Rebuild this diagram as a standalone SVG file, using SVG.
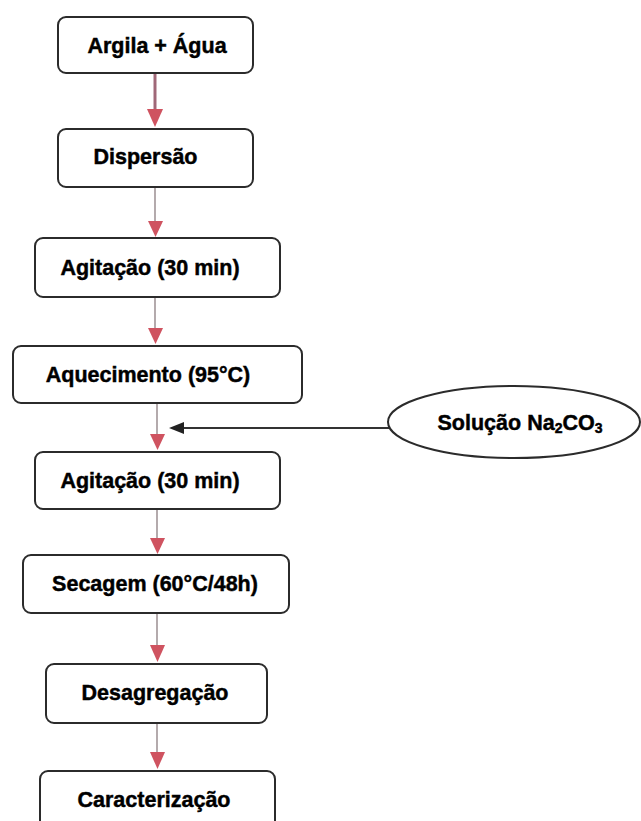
<svg xmlns="http://www.w3.org/2000/svg" width="641" height="821" viewBox="0 0 641 821">
<defs>
<style>
.box{fill:#fff;stroke:#2b2b2b;stroke-width:2}
.lbl{font-family:"Liberation Sans",Arial,sans-serif;font-weight:bold;font-size:21.5px;fill:#000;stroke:#000;stroke-width:0.45;text-anchor:middle}
.ln{stroke:#8c7d80;stroke-width:1.3;fill:none}
.hd{fill:#cf5360}
</style>
</defs>
<rect width="641" height="821" fill="#fff"/>
<g id="connectors">
<line x1="155" y1="73" x2="155" y2="110" stroke="#a06878" stroke-width="3"/>
<polygon class="hd" points="147,109 163,109 155,127"/>
<line class="ln" x1="155" y1="187" x2="155" y2="222"/>
<polygon class="hd" points="148,221 163,221 155.5,237"/>
<line class="ln" x1="155" y1="297" x2="155" y2="329"/>
<polygon class="hd" points="148,328 163,328 155.5,344"/>
<line class="ln" x1="157" y1="403" x2="157" y2="435"/>
<polygon class="hd" points="150,434 165,434 157.5,450"/>
<line class="ln" x1="157" y1="509" x2="157" y2="539"/>
<polygon class="hd" points="150,538 165,538 157.5,554"/>
<line class="ln" x1="157" y1="613" x2="157" y2="646"/>
<polygon class="hd" points="150,645 165,645 157.5,662"/>
<line class="ln" x1="157" y1="723" x2="157" y2="753"/>
<polygon class="hd" points="150,752 165,752 157.5,769"/>
<line x1="390" y1="428" x2="182" y2="428" stroke="#333" stroke-width="2"/>
<polygon points="169,428 184,422 184,434" fill="#222"/>
</g>
<g id="n1"><rect class="box" x="58" y="17" width="195" height="56" rx="8"/><text class="lbl" x="157" y="53">Argila + Água</text></g>
<g id="n2"><rect class="box" x="58" y="129" width="195" height="58" rx="8"/><text class="lbl" x="145.5" y="164">Dispersão</text></g>
<g id="n3"><rect class="box" x="35" y="238" width="245" height="59" rx="8"/><text class="lbl" x="150" y="275">Agitação (30 min)</text></g>
<g id="n4"><rect class="box" x="13" y="346" width="289" height="57" rx="8"/><text class="lbl" x="148" y="382">Aquecimento (95°C)</text></g>
<g id="n5"><rect class="box" x="35" y="452" width="245" height="57" rx="8"/><text class="lbl" x="150" y="488">Agitação (30 min)</text></g>
<g id="n6"><rect class="box" x="23" y="555" width="266" height="58" rx="8"/><text class="lbl" x="155" y="591">Secagem (60°C/48h)</text></g>
<g id="n7"><rect class="box" x="46" y="664" width="221" height="59" rx="8"/><text class="lbl" x="155" y="700">Desagregação</text></g>
<g id="n8"><rect class="box" x="40" y="771" width="235" height="64" rx="8"/><text class="lbl" x="154" y="807">Caracterização</text></g>
<g id="n9"><ellipse cx="514" cy="422" rx="126" ry="36" fill="#fff" stroke="#2b2b2b" stroke-width="2"/><text class="lbl" x="520" y="430">Solução Na<tspan font-size="14" dy="3">2</tspan><tspan dy="-3">CO</tspan><tspan font-size="14" dy="3">3</tspan></text></g>
</svg>
